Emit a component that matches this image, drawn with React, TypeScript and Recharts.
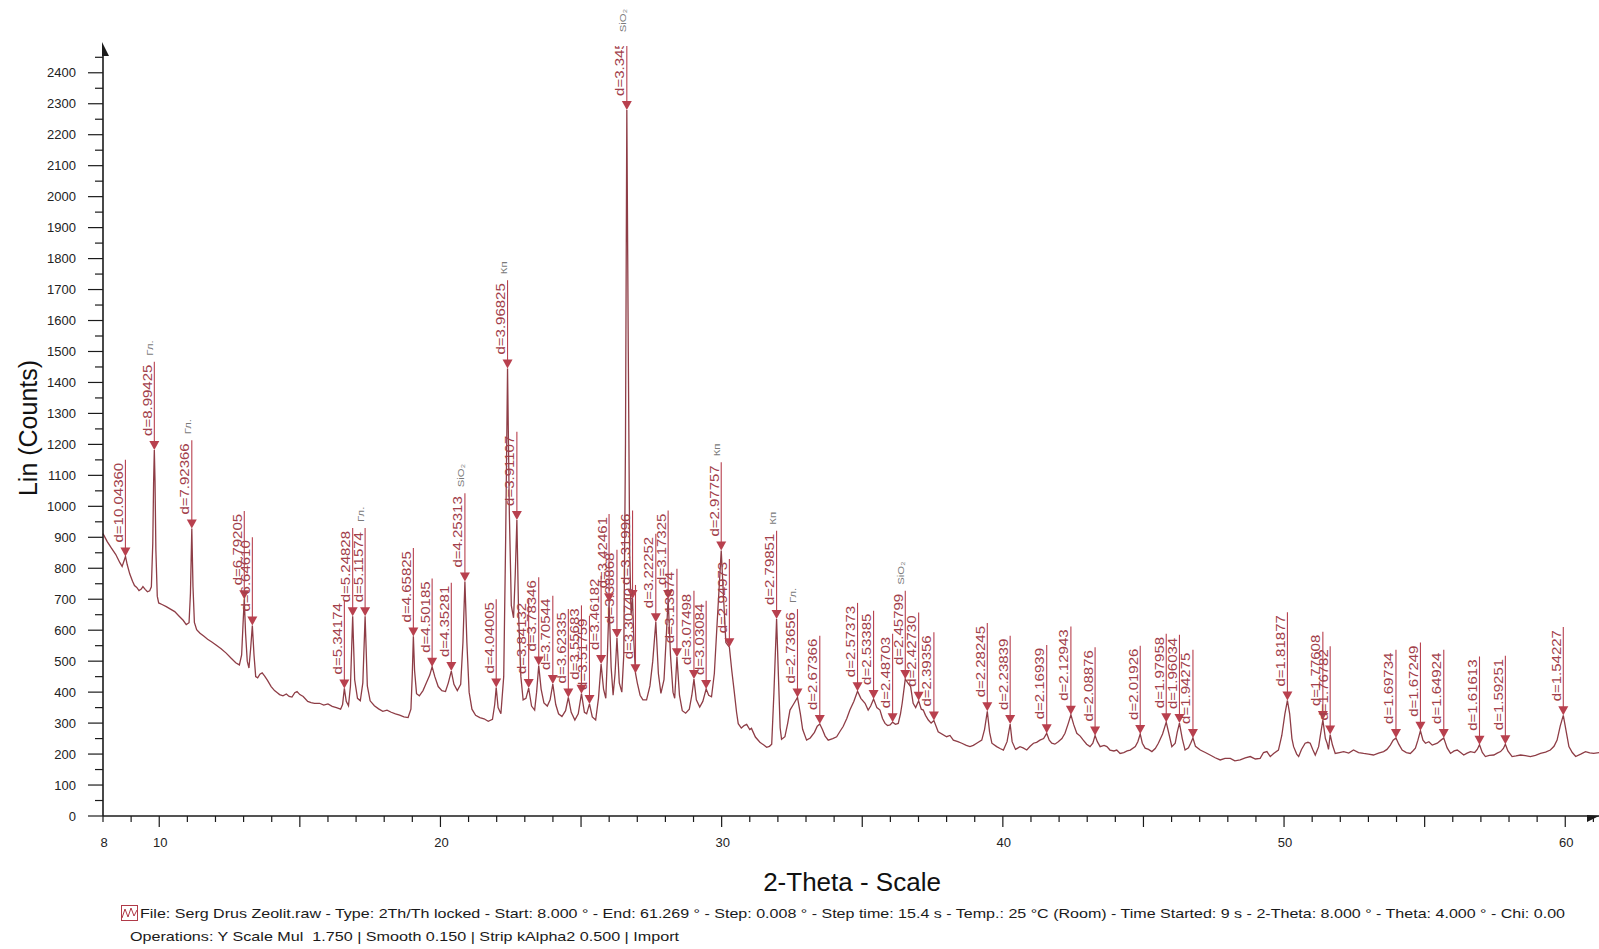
import React from 'react';
import { ComposedChart, Line, Scatter, XAxis, YAxis, ReferenceDot } from 'recharts';

// diffractogram trace, [2-theta, counts]
const scan: [number, number][] = [
  [8.0, 912], [8.15, 886], [8.3, 865], [8.45, 845], [8.6, 818], [8.68, 806], [8.74, 822], [8.8, 838], [8.86, 812],
  [8.95, 782], [9.05, 758], [9.12, 744], [9.2, 738], [9.28, 728], [9.36, 733], [9.42, 741], [9.5, 732], [9.58, 724],
  [9.66, 727], [9.72, 740], [9.77, 880], [9.8, 1080], [9.825, 1182], [9.85, 1080], [9.88, 860], [9.93, 710], [9.98, 688],
  [10.1, 683], [10.25, 676], [10.4, 668], [10.55, 660], [10.7, 646], [10.85, 632], [10.96, 618], [11.06, 624], [11.11, 720],
  [11.158, 928], [11.2, 740], [11.25, 625], [11.33, 602], [11.45, 590], [11.58, 581], [11.72, 571], [11.87, 562], [12.02, 552],
  [12.2, 540], [12.38, 526], [12.55, 510], [12.72, 495], [12.85, 488], [12.93, 520], [12.98, 620], [13.024, 700], [13.07, 590],
  [13.13, 500], [13.19, 478], [13.25, 540], [13.311, 615], [13.37, 520], [13.43, 450], [13.5, 446], [13.58, 458], [13.66, 462],
  [13.75, 452], [13.85, 438], [13.98, 418], [14.1, 405], [14.2, 398], [14.28, 392], [14.4, 388], [14.52, 394], [14.62, 386],
  [14.72, 384], [14.82, 398], [14.9, 402], [15.0, 392], [15.12, 386], [15.28, 370], [15.4, 366], [15.52, 364], [15.7, 364],
  [15.85, 358], [16.0, 362], [16.15, 354], [16.3, 350], [16.45, 345], [16.52, 360], [16.583, 412], [16.65, 370], [16.73, 356],
  [16.8, 420], [16.879, 645], [16.95, 440], [17.05, 380], [17.15, 372], [17.24, 430], [17.321, 645], [17.4, 420], [17.5, 372],
  [17.65, 356], [17.8, 346], [17.95, 338], [18.1, 342], [18.25, 335], [18.4, 330], [18.55, 326], [18.7, 320], [18.85, 318],
  [18.95, 345], [19.0, 460], [19.037, 580], [19.08, 470], [19.15, 395], [19.25, 388], [19.38, 405], [19.5, 430], [19.62, 455],
  [19.704, 482], [19.8, 450], [19.92, 418], [20.05, 405], [20.18, 402], [20.28, 430], [20.386, 468], [20.48, 425], [20.6, 405],
  [20.72, 425], [20.8, 560], [20.87, 757], [20.94, 560], [21.02, 400], [21.12, 345], [21.25, 325], [21.4, 318], [21.55, 314],
  [21.7, 306], [21.85, 312], [21.93, 360], [21.983, 415], [22.05, 350], [22.15, 330], [22.25, 450], [22.32, 900], [22.386, 1445],
  [22.45, 980], [22.52, 680], [22.6, 640], [22.66, 780], [22.718, 956], [22.78, 650], [22.86, 450], [22.94, 375], [23.04, 380],
  [23.137, 413], [23.24, 355], [23.35, 342], [23.42, 400], [23.495, 486], [23.58, 410], [23.68, 365], [23.8, 355], [23.9, 375],
  [23.996, 426], [24.1, 360], [24.2, 330], [24.32, 321], [24.45, 340], [24.548, 383], [24.65, 335], [24.78, 310], [24.9, 330],
  [25.015, 395], [25.12, 335], [25.2, 330], [25.3, 362], [25.4, 320], [25.52, 310], [25.62, 380], [25.713, 491], [25.8, 410],
  [25.88, 380], [25.93, 500], [25.996, 690], [26.07, 480], [26.14, 390], [26.21, 460], [26.277, 575], [26.36, 430], [26.45, 400],
  [26.52, 520], [26.58, 1200], [26.628, 2280], [26.68, 1500], [26.73, 850], [26.78, 650], [26.832, 701], [26.88, 560],
  [26.936, 461], [27.0, 430], [27.1, 390], [27.2, 375], [27.33, 375], [27.45, 420], [27.55, 500], [27.659, 626], [27.75, 460],
  [27.84, 396], [27.95, 440], [28.02, 560], [28.097, 701], [28.18, 520], [28.27, 400], [28.33, 380], [28.41, 513], [28.5, 390],
  [28.6, 340], [28.72, 332], [28.85, 345], [28.94, 390], [29.015, 442], [29.1, 375], [29.22, 352], [29.33, 370], [29.449, 410],
  [29.54, 390], [29.64, 385], [29.74, 460], [29.85, 640], [29.985, 857], [30.06, 720], [30.15, 560], [30.275, 545], [30.36, 470],
  [30.45, 400], [30.53, 335], [30.59, 298], [30.7, 284], [30.8, 292], [30.89, 296], [31.0, 279], [31.06, 283], [31.2, 255],
  [31.36, 238], [31.5, 229], [31.6, 222], [31.7, 225], [31.78, 232], [31.86, 400], [31.954, 636], [32.02, 450], [32.08, 285],
  [32.13, 248], [32.25, 256], [32.35, 300], [32.43, 342], [32.55, 360], [32.697, 383], [32.8, 330], [32.88, 280], [33.02, 245],
  [33.15, 252], [33.3, 270], [33.4, 290], [33.49, 297], [33.58, 280], [33.68, 258], [33.79, 245], [33.95, 250], [34.09, 256],
  [34.2, 272], [34.32, 289], [34.45, 315], [34.56, 342], [34.7, 370], [34.832, 403], [34.95, 380], [35.1, 364], [35.21, 342],
  [35.3, 355], [35.403, 378], [35.52, 350], [35.63, 342], [35.72, 315], [35.81, 299], [35.9, 292], [35.99, 294], [36.08, 303],
  [36.18, 296], [36.28, 299], [36.36, 330], [36.42, 364], [36.53, 442], [36.62, 430], [36.72, 418], [36.81, 364], [36.9, 350],
  [37.006, 372], [37.1, 345], [37.17, 342], [37.25, 325], [37.35, 310], [37.45, 300], [37.548, 308], [37.7, 272], [38.0, 256],
  [38.12, 260], [38.24, 245], [38.4, 240], [38.54, 235], [38.7, 228], [38.83, 224], [38.95, 228], [39.07, 235], [39.25, 245],
  [39.35, 280], [39.447, 338], [39.53, 270], [39.61, 235], [39.78, 224], [39.9, 218], [40.02, 213], [40.15, 240], [40.26, 297],
  [40.33, 240], [40.45, 215], [40.61, 224], [40.72, 220], [40.85, 213], [40.97, 225], [41.09, 235], [41.2, 238], [41.32, 245],
  [41.45, 250], [41.56, 267], [41.65, 245], [41.74, 235], [41.85, 232], [41.97, 240], [42.1, 250], [42.21, 267], [42.33, 300],
  [42.42, 327], [42.52, 295], [42.63, 267], [42.75, 258], [42.86, 245], [42.98, 232], [43.1, 224], [43.2, 235], [43.28, 260],
  [43.36, 240], [43.46, 224], [43.6, 228], [43.7, 224], [43.81, 213], [43.95, 210], [44.05, 213], [44.17, 202], [44.3, 205],
  [44.42, 210], [44.53, 213], [44.71, 224], [44.8, 240], [44.885, 265], [44.96, 235], [45.06, 219], [45.18, 215], [45.3, 208],
  [45.42, 218], [45.53, 235], [45.68, 265], [45.81, 303], [45.92, 260], [46.01, 224], [46.13, 235], [46.2, 270], [46.28, 300],
  [46.38, 250], [46.48, 213], [46.6, 220], [46.68, 235], [46.76, 252], [46.85, 225], [47.02, 213], [47.2, 205], [47.37, 197],
  [47.55, 188], [47.73, 181], [47.9, 186], [48.09, 186], [48.25, 178], [48.44, 181], [48.62, 188], [48.8, 192], [48.98, 184],
  [49.15, 186], [49.27, 205], [49.39, 208], [49.51, 192], [49.63, 202], [49.8, 213], [49.92, 260], [50.03, 330], [50.12, 373],
  [50.2, 330], [50.28, 250], [50.34, 224], [50.45, 200], [50.52, 192], [50.62, 215], [50.75, 235], [50.85, 238], [50.93, 235],
  [51.02, 215], [51.11, 197], [51.23, 224], [51.3, 265], [51.38, 310], [51.47, 250], [51.53, 235], [51.58, 215], [51.64, 263],
  [51.72, 230], [51.82, 202], [51.97, 205], [52.12, 208], [52.3, 203], [52.47, 213], [52.65, 205], [52.83, 202], [53.0, 200],
  [53.18, 197], [53.36, 203], [53.54, 208], [53.66, 215], [53.78, 229], [53.88, 245], [53.98, 252], [54.08, 232], [54.2, 213],
  [54.35, 205], [54.49, 202], [54.58, 210], [54.67, 219], [54.76, 245], [54.85, 275], [54.94, 245], [55.03, 235], [55.15, 240],
  [55.27, 229], [55.36, 232], [55.45, 235], [55.58, 245], [55.68, 252], [55.8, 220], [55.92, 202], [56.05, 210], [56.16, 213],
  [56.28, 205], [56.39, 197], [56.51, 203], [56.63, 208], [56.78, 205], [56.87, 215], [56.95, 230], [57.05, 205], [57.16, 192],
  [57.3, 196], [57.46, 197], [57.58, 203], [57.7, 208], [57.8, 218], [57.87, 232], [57.96, 210], [58.11, 192], [58.25, 194],
  [58.41, 197], [58.58, 195], [58.76, 192], [58.94, 196], [59.12, 202], [59.3, 206], [59.47, 213], [59.6, 225], [59.71, 245],
  [59.82, 290], [59.93, 325], [60.02, 280], [60.13, 224], [60.25, 205], [60.37, 192], [60.55, 200], [60.72, 208], [60.87, 204],
  [61.01, 202], [61.2, 205],
];

// peak markers: [d label, 2-theta, counts at marker, phase]
const peaks: [string, number, number, string][] = [
  ['d=10.04360', 8.797, 838, ''],
  ['d=8.99425', 9.825, 1182, 'Гл.'],
  ['d=7.92366', 11.158, 928, 'Гл.'],
  ['d=6.79205', 13.024, 700, ''],
  ['d=6.64610', 13.311, 615, ''],
  ['d=5.34174', 16.583, 412, ''],
  ['d=5.24828', 16.879, 645, ''],
  ['d=5.11574', 17.321, 645, 'Гл.'],
  ['d=4.65825', 19.037, 580, ''],
  ['d=4.50185', 19.704, 482, ''],
  ['d=4.35281', 20.386, 468, ''],
  ['d=4.25313', 20.87, 757, 'SiO₂'],
  ['d=4.04005', 21.983, 415, ''],
  ['d=3.96825', 22.386, 1445, 'Кп'],
  ['d=3.91107', 22.718, 956, ''],
  ['d=3.84132', 23.137, 413, ''],
  ['d=3.78346', 23.495, 486, ''],
  ['d=3.70544', 23.996, 426, ''],
  ['d=3.62335', 24.548, 383, ''],
  ['d=3.55683', 25.015, 395, ''],
  ['d=3.51759', 25.3, 362, ''],
  ['d=3.46182', 25.713, 491, ''],
  ['d=3.42461', 25.996, 690, ''],
  ['d=3.38868', 26.277, 575, ''],
  ['d=3.345', 26.628, 2280, 'SiO₂'],
  ['d=3.31996', 26.832, 701, ''],
  ['d=3.30740', 26.936, 461, ''],
  ['d=3.22252', 27.659, 626, ''],
  ['d=3.17325', 28.097, 701, ''],
  ['d=3.13874', 28.41, 513, ''],
  ['d=3.07498', 29.015, 442, ''],
  ['d=3.03084', 29.449, 410, ''],
  ['d=2.97757', 29.985, 857, 'Кп'],
  ['d=2.94973', 30.275, 545, ''],
  ['d=2.79851', 31.954, 636, 'Кп'],
  ['d=2.73656', 32.697, 383, 'Гл.'],
  ['d=2.67366', 33.49, 297, ''],
  ['d=2.57373', 34.832, 403, ''],
  ['d=2.53385', 35.403, 378, ''],
  ['d=2.48703', 36.08, 303, ''],
  ['d=2.45799', 36.53, 442, 'SiO₂'],
  ['d=2.42730', 37.006, 372, ''],
  ['d=2.39356', 37.548, 308, ''],
  ['d=2.28245', 39.447, 338, ''],
  ['d=2.23839', 40.26, 297, ''],
  ['d=2.16939', 41.56, 267, ''],
  ['d=2.12943', 42.42, 327, ''],
  ['d=2.08876', 43.28, 260, ''],
  ['d=2.01926', 44.885, 265, ''],
  ['d=1.97958', 45.81, 303, ''],
  ['d=1.96034', 46.28, 300, ''],
  ['d=1.94275', 46.76, 252, ''],
  ['d=1.81877', 50.12, 373, ''],
  ['d=1.77608', 51.38, 310, ''],
  ['d=1.76782', 51.64, 263, ''],
  ['d=1.69734', 53.98, 252, ''],
  ['d=1.67249', 54.85, 275, ''],
  ['d=1.64924', 55.68, 252, ''],
  ['d=1.61613', 56.95, 230, ''],
  ['d=1.59251', 57.87, 232, ''],
  ['d=1.54227', 59.93, 325, ''],
];

const yTicks = [0, 50, 100, 150, 200, 250, 300, 350, 400, 450, 500, 550, 600, 650, 700, 750, 800, 850, 900, 950, 1000,
  1050, 1100, 1150, 1200, 1250, 1300, 1350, 1400, 1450, 1500, 1550, 1600, 1650, 1700, 1750, 1800, 1850, 1900, 1950,
  2000, 2050, 2100, 2150, 2200, 2250, 2300, 2350, 2400, 2450];
const xTicks = [8, 9, 10, 11, 12, 13, 14, 15, 16, 17, 18, 19, 20, 21, 22, 23, 24, 25, 26, 27, 28, 29, 30, 31, 32, 33, 34,
  35, 36, 37, 38, 39, 40, 41, 42, 43, 44, 45, 46, 47, 48, 49, 50, 51, 52, 53, 54, 55, 56, 57, 58, 59, 60, 61];
const xLabels = [8, 10, 20, 30, 40, 50, 60];

const footer1 = 'File: Serg Drus Zeolit.raw - Type: 2Th/Th locked - Start: 8.000 ° - End: 61.269 ° - Step: 0.008 ° - Step time: 15.4 s - Temp.: 25 °C (Room) - Time Started: 9 s - 2-Theta: 8.000 ° - Theta: 4.000 ° - Chi: 0.00';
const footer2 = 'Operations: Y Scale Mul  1.750 | Smooth 0.150 | Strip kAlpha2 0.500 | Import';

const FONT = '"Liberation Sans", Arial, sans-serif';
const CURVE = '#8e3d46';
const MARK = '#b8404e';
const LABEL = '#a2404a';
const AXIS = '#1b1b1b';

const scanData = scan.map(([x, y]) => ({ x, y }));
const peakData = peaks.map(([label, x, y, phase]) => ({ x, y, label, phase }));

const charW: Record<string, number> = { d: 0.556, '=': 0.584, '.': 0.278 };
const labelLen = (s: string) => {
  let w = 0;
  for (const c of s) w += charW[c] ?? 0.556;
  return w * 12 * 1.25;
};

const PeakMark = (props: any) => {
  const { cx, cy, payload, index } = props;
  if (cx == null || cy == null) return <g />;
  const len = labelLen(payload.label);
  const top = cy - 14 - len - 3;
  const id = `pk-clip-${index}`;
  return (
    <g>
      <defs>
        <clipPath id={id}>
          <rect x={0} y={46} width={1599} height={900} />
        </clipPath>
      </defs>
      <g clipPath={`url(#${id})`}>
        <line x1={cx} x2={cx} y1={cy - 8} y2={top} stroke={MARK} strokeWidth={1.1} />
        <text transform={`translate(${cx - 2.5},${cy - 14}) rotate(-90) scale(1.25,1)`}
          fontSize={12} fill={LABEL} fontFamily={FONT}>{payload.label}</text>
      </g>
      <polygon points={`${cx - 5},${cy - 9} ${cx + 5},${cy - 9} ${cx},${cy}`} fill={MARK} />
      {payload.phase && (
        <text transform={`translate(${cx - 1},${top - 6}) rotate(-90) scale(1.2,1)`}
          fontSize={9.5} fill="#7a7a7a" fontFamily={FONT}>{payload.phase}</text>
      )}
    </g>
  );
};

const YTick = (props: any) => {
  const { x, y, payload } = props;
  const v = payload.value;
  const major = v % 100 === 0;
  return (
    <g>
      <line x1={x - (major ? 15 : 8)} x2={x} y1={y} y2={y} stroke={AXIS} strokeWidth={1.2} />
      {major && (
        <text x={x - 27} y={y} dy="0.35em" textAnchor="end" fontSize={13} fill="#222" fontFamily={FONT}>{v}</text>
      )}
    </g>
  );
};

const XTick = (props: any) => {
  const { x, y, payload } = props;
  const v = payload.value;
  const long = v % 5 === 0;
  return (
    <g>
      <line x1={x} x2={x} y1={y} y2={y + (long ? 11 : 6)} stroke={AXIS} strokeWidth={1.2} />
      {xLabels.includes(v) && (
        <text x={x + 1} y={y + 26} dy="0.35em" textAnchor="middle" fontSize={13} fill="#222" fontFamily={FONT}>{v}</text>
      )}
    </g>
  );
};

const YArrow = (p: any) => (
  <polygon points={`${p.cx - 1},${p.cy - 6} ${p.cx + 6},${p.cy + 8} ${p.cx - 1},${p.cy + 8}`} fill={AXIS} />
);
const XArrow = (p: any) => (
  <polygon points={`${p.cx - 12},${p.cy - 1} ${p.cx},${p.cy} ${p.cx - 12},${p.cy + 6}`} fill={AXIS} />
);

export default function App() {
  return (
    <div style={{ position: 'absolute', left: 0, top: 0, width: 1599, height: 949, background: '#fff' }}>
      <ComposedChart width={1599} height={949} margin={{ top: 48, right: 0, bottom: 103, left: 0 }}>
        <XAxis dataKey="x" type="number" domain={[8, 61.2]} ticks={xTicks} interval={0}
          tick={<XTick />} tickLine={false} tickSize={0} tickMargin={0} height={30}
          axisLine={{ stroke: AXIS, strokeWidth: 1.6 }} />
        <YAxis type="number" domain={[0, 2480]} ticks={yTicks} interval={0}
          tick={<YTick />} tickLine={false} tickSize={0} tickMargin={0} width={103}
          axisLine={{ stroke: AXIS, strokeWidth: 1.6 }} />
        <Line data={scanData} dataKey="y" type="linear" stroke={CURVE} strokeWidth={1.3} dot={false}
          isAnimationActive={false} />
        <Scatter data={peakData} dataKey="y" shape={PeakMark} isAnimationActive={false} />
        <ReferenceDot x={8} y={2480} r={0} ifOverflow="visible" shape={YArrow} />
        <ReferenceDot x={61.2} y={0} r={0} ifOverflow="visible" shape={XArrow} />
      </ComposedChart>
      <svg width={1599} height={949} style={{ position: 'absolute', left: 0, top: 0, pointerEvents: 'none' }}>
        <text transform="translate(37,428) rotate(-90)" textAnchor="middle" fontSize={25} fill="#111" fontFamily={FONT}>
          Lin (Counts)
        </text>
        <text x={852} y={891} textAnchor="middle" fontSize={26} fill="#111" fontFamily={FONT}>2-Theta - Scale</text>
        <rect x={121.5} y={905.5} width={16} height={15} fill="none" stroke="#b03a48" strokeWidth={1} />
        <polyline points="122,918 125,909 128,917 131,908 134,916 137,910" fill="none" stroke="#b03a48" strokeWidth={1} />
        <text x={140} y={918} fontSize={13} fill="#1a1a1a" fontFamily={FONT} textLength={1425}
          lengthAdjust="spacingAndGlyphs" xmlSpace="preserve">{footer1}</text>
        <text x={130} y={941} fontSize={13} fill="#1a1a1a" fontFamily={FONT} textLength={549}
          lengthAdjust="spacingAndGlyphs" xmlSpace="preserve">{footer2}</text>
      </svg>
    </div>
  );
}
